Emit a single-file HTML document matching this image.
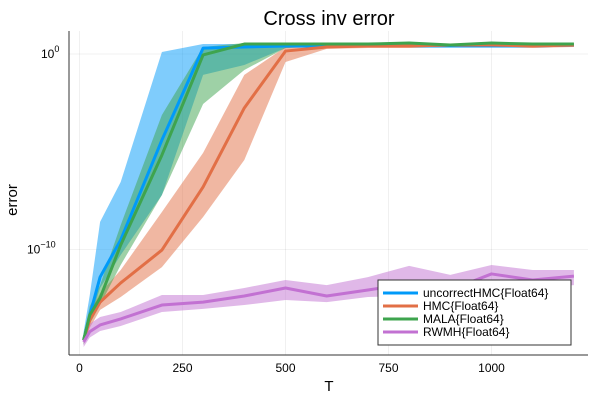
<!DOCTYPE html>
<html><head><meta charset="utf-8"><style>
body{margin:0;background:#fff}
svg{font-family:"Liberation Sans","DejaVu Sans",sans-serif}
</style></head><body>
<svg width="600" height="400" xmlns="http://www.w3.org/2000/svg">
<rect width="600" height="400" fill="#fff"/>
<text x="329" y="25" font-size="20" text-anchor="middle" fill="#000">Cross inv error</text>
<g id="grid"></g>
<g id="bands"></g>
<g id="lines"></g>
<line x1="69" y1="355" x2="588" y2="355" stroke="#333" stroke-width="1"/>
<line x1="69" y1="31" x2="69" y2="355" stroke="#333" stroke-width="1"/>
<g id="ticks" font-size="12" fill="#000"></g>
<text x="329" y="391" font-size="15" text-anchor="middle">T</text>
<text transform="translate(17,200) rotate(-90)" font-size="15" text-anchor="middle">error</text>
<g>
<rect x="378" y="280" width="193" height="65" fill="#fff" stroke="#333" stroke-width="1"/>
<g id="legend-entries" font-size="12"></g>
</g>
</svg>
<script>
const T=[10,25,50,100,200,300,400,500,600,700,800,900,1000,1100,1200];
const seriesNames=["uncorrectHMC{Float64}","HMC{Float64}","MALA{Float64}","RWMH{Float64}"];
const colors=["#009af9","#e26f46","#3ea44e","#c271d2"];
// log10(error)
const uMid=[-14.63,-13.35,-11.41,-9.51,-4.40,0.30,0.36,0.41,0.41,0.41,0.41,0.41,0.41,0.41,0.46];
const uHi=[-14.22,-12.33,-8.59,-6.55,0.10,0.51,0.51,0.46,0.46,0.46,0.46,0.46,0.46,0.46,0.46];
const uLo=[-14.88,-13.6,-11.97,-10.28,-7.21,-1.07,-0.56,0.31,0.36,0.36,0.36,0.36,0.36,0.36,0.36];
const hMid=[-14.63,-13.6,-12.69,-11.71,-10.03,-6.80,-2.76,0.15,0.36,0.41,0.41,0.46,0.46,0.41,0.46];
const hHi=[-14.3,-13.2,-12.23,-11.05,-8.08,-5.06,-1.07,0.36,0.46,0.46,0.51,0.51,0.51,0.46,0.51];
const hLo=[-14.88,-14.0,-13.09,-12.43,-10.90,-8.34,-5.42,-0.41,0.26,0.31,0.31,0.36,0.36,0.31,0.36];
const mMid=[-14.63,-13.35,-12.48,-9.77,-5.17,-0.05,0.51,0.51,0.51,0.51,0.56,0.46,0.56,0.51,0.51];
const mHi=[-14.37,-12.9,-11.82,-8.75,-3.12,0.36,0.56,0.56,0.56,0.56,0.61,0.51,0.61,0.56,0.56];
const mLo=[-14.88,-13.8,-12.84,-10.79,-7.21,-2.56,-0.82,0.31,0.41,0.41,0.46,0.41,0.46,0.41,0.41];
const rMid=[-14.73,-14.2,-13.86,-13.55,-12.84,-12.69,-12.38,-11.97,-12.38,-12.07,-11.76,-12.07,-11.25,-11.56,-11.36];
const rHi=[-14.42,-13.8,-13.45,-13.2,-12.33,-12.33,-11.97,-11.56,-11.82,-11.41,-10.84,-11.30,-10.79,-11.05,-11.05];
const rLo=[-14.99,-14.5,-14.17,-13.91,-13.2,-13.04,-12.84,-12.58,-12.69,-12.43,-12.38,-12.17,-11.82,-11.97,-11.82];
const xTicks=[0,250,500,750,1000];
const yTicks=[0,-10];
const NS="http://www.w3.org/2000/svg";
const xs=v=>79.5+v*0.412;
const ys=v=>54-v*19.55;
function mk(tag,attrs,parent){const e=document.createElementNS(NS,tag);for(const k in attrs)e.setAttribute(k,attrs[k]);parent.appendChild(e);return e;}
const grid=document.getElementById('grid'),ticks=document.getElementById('ticks');
xTicks.forEach(t=>{
 const g=mk('line',{x1:xs(t),x2:xs(t),y1:31,y2:355,stroke:'#000','stroke-opacity':0.1,'stroke-width':0.6},grid);
 
 
 const tx=mk('text',{x:xs(t),y:372,'text-anchor':'middle'},ticks);tx.textContent=t;
 
 
});
yTicks.forEach(t=>{
 const g=mk('line',{x1:69,x2:588,y1:ys(t),y2:ys(t),stroke:'#000','stroke-opacity':0.1,'stroke-width':0.6},grid);
 
 
 const tx=mk('text',{x:t===0?41:27,y:ys(t)+4,'text-anchor':'start'},ticks);
 
 
 tx.appendChild(document.createTextNode('10'));
 const sp=mk('tspan',{dy:-6,'font-size':9},tx);sp.textContent=t===0?'0':'\u221210';
});
const mids=[uMid,hMid,mMid,rMid],his=[uHi,hHi,mHi,rHi],los=[uLo,hLo,mLo,rLo];
const bands=document.getElementById('bands'),lines=document.getElementById('lines');
mids.forEach((mid,i)=>{
 let d='M'+T.map((t,j)=>xs(t)+','+ys(his[i][j])).join('L')+'L'+T.slice().reverse().map((t,j)=>xs(t)+','+ys(los[i][T.length-1-j])).join('L')+'Z';
 const b=mk('path',{d:d,fill:colors[i],'fill-opacity':0.5,stroke:'none'},bands);
 
 
 const l=mk('polyline',{points:T.map((t,j)=>xs(t)+','+ys(mid[j])).join(' '),fill:'none',stroke:colors[i],'stroke-width':3,'stroke-linejoin':'round'},lines);
 
 
});
const le=document.getElementById('legend-entries');
seriesNames.forEach((n,i)=>{
 const y=293+i*13;
 const g=mk('g',{},le);
 
 
 mk('line',{x1:383,x2:418,y1:y,y2:y,stroke:colors[i],'stroke-width':3},g);
 const t=mk('text',{x:423,y:y+4},g);t.textContent=n;
});
</script>
</body></html>
